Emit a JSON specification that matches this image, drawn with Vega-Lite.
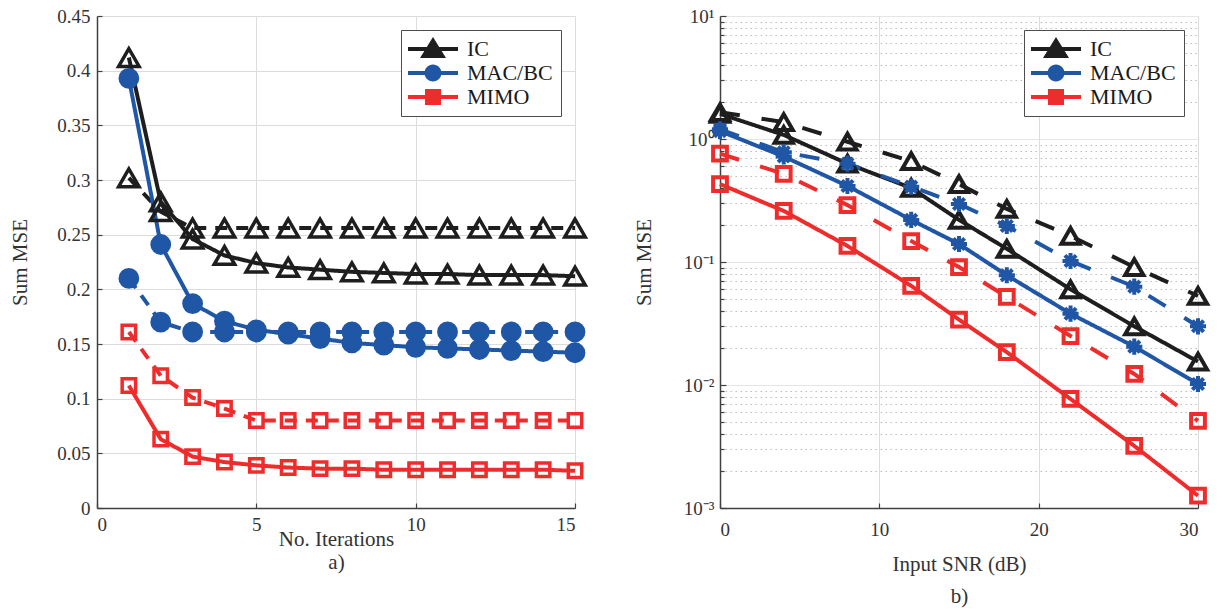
{
  "$schema": "https://vega.github.io/schema/vega-lite/v6.json",
  "background": "white",
  "padding": {"left": 9, "top": 7, "right": 5, "bottom": 5},
  "bounds": "flush",
  "spacing": 145,
  "config": {
    "font": "Liberation Serif",
    "view": {"stroke": null},
    "axis": {
      "labelFont": "Liberation Serif", "labelFontSize": 19, "labelColor": "#333333",
      "titleFont": "Liberation Serif", "titleFontSize": 21, "titleFontWeight": "normal", "titleColor": "#333333",
      "domainColor": "#404040", "domainWidth": 1.5, "tickColor": "#404040", "tickSize": -5, "tickWidth": 1.2,
      "gridColor": "#dcdcdc", "gridWidth": 1, "labelPadding": 12
    },
    "legend": {
      "title": null, "orient": "top-right", "offset": 14, "padding": 8,
      "strokeColor": "#4d4d4d", "fillColor": "white",
      "labelFont": "Liberation Serif", "labelFontSize": 22, "labelColor": "#1a1a1a",
      "labelOffset": 36, "rowPadding": 2, "symbolSize": 400, "symbolStrokeWidth": 0
    }
  },
  "datasets": {
    "left": [
      {"it":1,"mse":0.412,"series":"IC","type":"solid"},{"it":2,"mse":0.280,"series":"IC","type":"solid"},{"it":3,"mse":0.246,"series":"IC","type":"solid"},{"it":4,"mse":0.231,"series":"IC","type":"solid"},{"it":5,"mse":0.224,"series":"IC","type":"solid"},{"it":6,"mse":0.220,"series":"IC","type":"solid"},{"it":7,"mse":0.218,"series":"IC","type":"solid"},{"it":8,"mse":0.216,"series":"IC","type":"solid"},{"it":9,"mse":0.215,"series":"IC","type":"solid"},{"it":10,"mse":0.214,"series":"IC","type":"solid"},{"it":11,"mse":0.214,"series":"IC","type":"solid"},{"it":12,"mse":0.213,"series":"IC","type":"solid"},{"it":13,"mse":0.213,"series":"IC","type":"solid"},{"it":14,"mse":0.213,"series":"IC","type":"solid"},{"it":15,"mse":0.212,"series":"IC","type":"solid"},
      {"it":1,"mse":0.302,"series":"IC","type":"dashed"},{"it":2,"mse":0.271,"series":"IC","type":"dashed"},{"it":3,"mse":0.256,"series":"IC","type":"dashed"},{"it":4,"mse":0.256,"series":"IC","type":"dashed"},{"it":5,"mse":0.256,"series":"IC","type":"dashed"},{"it":6,"mse":0.256,"series":"IC","type":"dashed"},{"it":7,"mse":0.256,"series":"IC","type":"dashed"},{"it":8,"mse":0.256,"series":"IC","type":"dashed"},{"it":9,"mse":0.256,"series":"IC","type":"dashed"},{"it":10,"mse":0.256,"series":"IC","type":"dashed"},{"it":11,"mse":0.256,"series":"IC","type":"dashed"},{"it":12,"mse":0.256,"series":"IC","type":"dashed"},{"it":13,"mse":0.256,"series":"IC","type":"dashed"},{"it":14,"mse":0.256,"series":"IC","type":"dashed"},{"it":15,"mse":0.256,"series":"IC","type":"dashed"},
      {"it":1,"mse":0.393,"series":"MAC/BC","type":"solid"},{"it":2,"mse":0.241,"series":"MAC/BC","type":"solid"},{"it":3,"mse":0.187,"series":"MAC/BC","type":"solid"},{"it":4,"mse":0.171,"series":"MAC/BC","type":"solid"},{"it":5,"mse":0.163,"series":"MAC/BC","type":"solid"},{"it":6,"mse":0.159,"series":"MAC/BC","type":"solid"},{"it":7,"mse":0.155,"series":"MAC/BC","type":"solid"},{"it":8,"mse":0.151,"series":"MAC/BC","type":"solid"},{"it":9,"mse":0.149,"series":"MAC/BC","type":"solid"},{"it":10,"mse":0.147,"series":"MAC/BC","type":"solid"},{"it":11,"mse":0.146,"series":"MAC/BC","type":"solid"},{"it":12,"mse":0.145,"series":"MAC/BC","type":"solid"},{"it":13,"mse":0.144,"series":"MAC/BC","type":"solid"},{"it":14,"mse":0.143,"series":"MAC/BC","type":"solid"},{"it":15,"mse":0.142,"series":"MAC/BC","type":"solid"},
      {"it":1,"mse":0.210,"series":"MAC/BC","type":"dashed"},{"it":2,"mse":0.170,"series":"MAC/BC","type":"dashed"},{"it":3,"mse":0.161,"series":"MAC/BC","type":"dashed"},{"it":4,"mse":0.161,"series":"MAC/BC","type":"dashed"},{"it":5,"mse":0.161,"series":"MAC/BC","type":"dashed"},{"it":6,"mse":0.161,"series":"MAC/BC","type":"dashed"},{"it":7,"mse":0.161,"series":"MAC/BC","type":"dashed"},{"it":8,"mse":0.161,"series":"MAC/BC","type":"dashed"},{"it":9,"mse":0.161,"series":"MAC/BC","type":"dashed"},{"it":10,"mse":0.161,"series":"MAC/BC","type":"dashed"},{"it":11,"mse":0.161,"series":"MAC/BC","type":"dashed"},{"it":12,"mse":0.161,"series":"MAC/BC","type":"dashed"},{"it":13,"mse":0.161,"series":"MAC/BC","type":"dashed"},{"it":14,"mse":0.161,"series":"MAC/BC","type":"dashed"},{"it":15,"mse":0.161,"series":"MAC/BC","type":"dashed"},
      {"it":1,"mse":0.112,"series":"MIMO","type":"solid"},{"it":2,"mse":0.063,"series":"MIMO","type":"solid"},{"it":3,"mse":0.047,"series":"MIMO","type":"solid"},{"it":4,"mse":0.042,"series":"MIMO","type":"solid"},{"it":5,"mse":0.039,"series":"MIMO","type":"solid"},{"it":6,"mse":0.037,"series":"MIMO","type":"solid"},{"it":7,"mse":0.036,"series":"MIMO","type":"solid"},{"it":8,"mse":0.036,"series":"MIMO","type":"solid"},{"it":9,"mse":0.035,"series":"MIMO","type":"solid"},{"it":10,"mse":0.035,"series":"MIMO","type":"solid"},{"it":11,"mse":0.035,"series":"MIMO","type":"solid"},{"it":12,"mse":0.035,"series":"MIMO","type":"solid"},{"it":13,"mse":0.035,"series":"MIMO","type":"solid"},{"it":14,"mse":0.035,"series":"MIMO","type":"solid"},{"it":15,"mse":0.034,"series":"MIMO","type":"solid"},
      {"it":1,"mse":0.161,"series":"MIMO","type":"dashed"},{"it":2,"mse":0.121,"series":"MIMO","type":"dashed"},{"it":3,"mse":0.101,"series":"MIMO","type":"dashed"},{"it":4,"mse":0.091,"series":"MIMO","type":"dashed"},{"it":5,"mse":0.080,"series":"MIMO","type":"dashed"},{"it":6,"mse":0.080,"series":"MIMO","type":"dashed"},{"it":7,"mse":0.080,"series":"MIMO","type":"dashed"},{"it":8,"mse":0.080,"series":"MIMO","type":"dashed"},{"it":9,"mse":0.080,"series":"MIMO","type":"dashed"},{"it":10,"mse":0.080,"series":"MIMO","type":"dashed"},{"it":11,"mse":0.080,"series":"MIMO","type":"dashed"},{"it":12,"mse":0.080,"series":"MIMO","type":"dashed"},{"it":13,"mse":0.080,"series":"MIMO","type":"dashed"},{"it":14,"mse":0.080,"series":"MIMO","type":"dashed"},{"it":15,"mse":0.080,"series":"MIMO","type":"dashed"}
    ],
    "right": [
      {"snr":0,"mse":1.60,"series":"IC","type":"solid"},{"snr":4,"mse":1.08,"series":"IC","type":"solid"},{"snr":8,"mse":0.63,"series":"IC","type":"solid"},{"snr":12,"mse":0.40,"series":"IC","type":"solid"},{"snr":15,"mse":0.22,"series":"IC","type":"solid"},{"snr":18,"mse":0.128,"series":"IC","type":"solid"},{"snr":22,"mse":0.060,"series":"IC","type":"solid"},{"snr":26,"mse":0.030,"series":"IC","type":"solid"},{"snr":30,"mse":0.0155,"series":"IC","type":"solid"},
      {"snr":0,"mse":1.65,"series":"IC","type":"dashed"},{"snr":4,"mse":1.37,"series":"IC","type":"dashed"},{"snr":8,"mse":0.95,"series":"IC","type":"dashed"},{"snr":12,"mse":0.66,"series":"IC","type":"dashed"},{"snr":15,"mse":0.43,"series":"IC","type":"dashed"},{"snr":18,"mse":0.27,"series":"IC","type":"dashed"},{"snr":22,"mse":0.163,"series":"IC","type":"dashed"},{"snr":26,"mse":0.091,"series":"IC","type":"dashed"},{"snr":30,"mse":0.053,"series":"IC","type":"dashed"},
      {"snr":0,"mse":1.16,"series":"MAC/BC","type":"solid"},{"snr":4,"mse":0.72,"series":"MAC/BC","type":"solid"},{"snr":8,"mse":0.415,"series":"MAC/BC","type":"solid"},{"snr":12,"mse":0.22,"series":"MAC/BC","type":"solid"},{"snr":15,"mse":0.14,"series":"MAC/BC","type":"solid"},{"snr":18,"mse":0.078,"series":"MAC/BC","type":"solid"},{"snr":22,"mse":0.038,"series":"MAC/BC","type":"solid"},{"snr":26,"mse":0.0205,"series":"MAC/BC","type":"solid"},{"snr":30,"mse":0.0102,"series":"MAC/BC","type":"solid"},
      {"snr":0,"mse":1.20,"series":"MAC/BC","type":"dashed"},{"snr":4,"mse":0.78,"series":"MAC/BC","type":"dashed"},{"snr":8,"mse":0.63,"series":"MAC/BC","type":"dashed"},{"snr":12,"mse":0.41,"series":"MAC/BC","type":"dashed"},{"snr":15,"mse":0.296,"series":"MAC/BC","type":"dashed"},{"snr":18,"mse":0.196,"series":"MAC/BC","type":"dashed"},{"snr":22,"mse":0.102,"series":"MAC/BC","type":"dashed"},{"snr":26,"mse":0.063,"series":"MAC/BC","type":"dashed"},{"snr":30,"mse":0.030,"series":"MAC/BC","type":"dashed"},
      {"snr":0,"mse":0.43,"series":"MIMO","type":"solid"},{"snr":4,"mse":0.26,"series":"MIMO","type":"solid"},{"snr":8,"mse":0.135,"series":"MIMO","type":"solid"},{"snr":12,"mse":0.064,"series":"MIMO","type":"solid"},{"snr":15,"mse":0.034,"series":"MIMO","type":"solid"},{"snr":18,"mse":0.0185,"series":"MIMO","type":"solid"},{"snr":22,"mse":0.0077,"series":"MIMO","type":"solid"},{"snr":26,"mse":0.0032,"series":"MIMO","type":"solid"},{"snr":30,"mse":0.00126,"series":"MIMO","type":"solid"},
      {"snr":0,"mse":0.76,"series":"MIMO","type":"dashed"},{"snr":4,"mse":0.52,"series":"MIMO","type":"dashed"},{"snr":8,"mse":0.29,"series":"MIMO","type":"dashed"},{"snr":12,"mse":0.148,"series":"MIMO","type":"dashed"},{"snr":15,"mse":0.091,"series":"MIMO","type":"dashed"},{"snr":18,"mse":0.052,"series":"MIMO","type":"dashed"},{"snr":22,"mse":0.025,"series":"MIMO","type":"dashed"},{"snr":26,"mse":0.0123,"series":"MIMO","type":"dashed"},{"snr":30,"mse":0.0051,"series":"MIMO","type":"dashed"}
    ]
  },
  "hconcat": [
    {
      "width": 478, "height": 492,
      "data": {"name": "left"},
      "encoding": {
        "x": {"field": "it", "type": "quantitative", "scale": {"domain": [0, 15], "nice": false},
              "axis": {"values": [0, 5, 10, 15], "title": ["No. Iterations", "a)"], "titleLineHeight": 23, "titlePadding": -6, "labelPadding": 12}},
        "y": {"field": "mse", "type": "quantitative", "scale": {"domain": [0, 0.45], "nice": false},
              "axis": {"values": [0, 0.05, 0.1, 0.15, 0.2, 0.25, 0.3, 0.35, 0.4, 0.45], "labelExpr": "datum.value == 0 ? '0' : format(datum.value, '.2~f')", "title": "Sum MSE", "titlePadding": 26}}
      },
      "layer": [
        {
          "mark": {"type": "line", "strokeWidth": 4},
          "encoding": {
            "stroke": {"field": "series", "type": "nominal", "scale": {"domain": ["IC", "MAC/BC", "MIMO"], "range": ["#1e1e1e", "#1f56a5", "#ee2c2c"]}, "legend": null},
            "strokeDash": {"field": "type", "type": "nominal", "scale": {"domain": ["solid", "dashed"], "range": [[1, 0], [12, 9]]}, "legend": null}
          }
        },
        {
          "mark": {"type": "point", "filled": true, "strokeWidth": 3.5, "opacity": 1},
          "encoding": {
            "shape": {"field": "series", "type": "nominal", "scale": {"domain": ["IC", "MAC/BC", "MIMO"], "range": ["triangle-up", "circle", "square"]}, "legend": null},
            "size": {"field": "series", "type": "nominal", "scale": {"domain": ["IC", "MAC/BC", "MIMO"], "range": [420, 180, 140]}, "legend": null},
            "stroke": {"field": "series", "type": "nominal", "scale": {"domain": ["IC", "MAC/BC", "MIMO"], "range": ["#1e1e1e", "#1f56a5", "#ee2c2c"]}, "legend": null},
            "fill": {"field": "series", "type": "nominal", "scale": {"domain": ["IC", "MAC/BC", "MIMO"], "range": ["rgba(255,255,255,0)", "#1f56a5", "rgba(255,255,255,0)"]}, "legend": null}
          }
        },
        {
          "transform": [{"filter": "false"}],
          "mark": {"type": "point", "filled": false, "strokeWidth": 0, "opacity": 1, "size": 400},
          "encoding": {
            "color": {"field": "series", "type": "nominal", "scale": {"domain": ["IC", "MAC/BC", "MIMO"], "range": ["#1e1e1e", "#1f56a5", "#ee2c2c"]}},
            "fill": {"field": "series", "type": "nominal", "scale": {"domain": ["IC", "MAC/BC", "MIMO"], "range": ["#1e1e1e", "#1f56a5", "#ee2c2c"]}},
            "shape": {"field": "series", "type": "nominal", "scale": {"domain": ["IC", "MAC/BC", "MIMO"], "range": ["M-1.2,-0.2L3.8,-0.2L3.8,0.2L-1.2,0.2ZM1.3,-1.2L2.6,0.9L0,0.9Z", "M-1.2,-0.2L3.8,-0.2L3.8,0.2L-1.2,0.2ZM0.45,0A0.85,0.85 0 1,1 2.15,0A0.85,0.85 0 1,1 0.45,0Z", "M-1.2,-0.2L3.8,-0.2L3.8,0.2L-1.2,0.2ZM0.5,-0.8L2.1,-0.8L2.1,0.8L0.5,0.8Z"]}}
          }
        }
      ],
      "resolve": {"scale": {"shape": "independent", "fill": "independent"}}
    },
    {
      "width": 478, "height": 492,
      "data": {"name": "right"},
      "encoding": {
        "x": {"field": "snr", "type": "quantitative", "scale": {"domain": [0, 30], "nice": false},
              "axis": {"values": [0, 10, 20, 30], "title": ["Input SNR (dB)", "b)"], "titleLineHeight": 32, "titlePadding": 14, "labelPadding": 17}},
        "y": {"field": "mse", "type": "quantitative", "scale": {"type": "log", "domain": [0.001, 10], "nice": false},
              "axis": {
                "values": [0.001,0.002,0.003,0.004,0.005,0.006,0.007,0.008,0.009,0.01,0.02,0.03,0.04,0.05,0.06,0.07,0.08,0.09,0.1,0.2,0.3,0.4,0.5,0.6,0.7,0.8,0.9,1,2,3,4,5,6,7,8,9,10],
                "labelExpr": "abs(log(datum.value)/LN10 - round(log(datum.value)/LN10)) < 0.000001 ? (round(log(datum.value)/LN10) == 1 ? '10¹' : round(log(datum.value)/LN10) == 0 ? '10⁰' : round(log(datum.value)/LN10) == -1 ? '10⁻¹' : round(log(datum.value)/LN10) == -2 ? '10⁻²' : '10⁻³') : ''",
                "gridDash": {"condition": {"test": "abs(log(datum.value)/LN10 - round(log(datum.value)/LN10)) < 0.000001", "value": [1, 0]}, "value": [1.5, 3.5]},
                "gridColor": {"condition": {"test": "abs(log(datum.value)/LN10 - round(log(datum.value)/LN10)) < 0.000001", "value": "#dcdcdc"}, "value": "#bdbdbd"},
                "tickSize": {"condition": {"test": "abs(log(datum.value)/LN10 - round(log(datum.value)/LN10)) < 0.000001", "value": -6}, "value": -4},
                "labelOverlap": false,
                "title": "Sum MSE", "titlePadding": 29
              }}
      },
      "layer": [
        {
          "mark": {"type": "line", "strokeWidth": 4},
          "encoding": {
            "stroke": {"field": "series", "type": "nominal", "scale": {"domain": ["IC", "MAC/BC", "MIMO"], "range": ["#1e1e1e", "#1f56a5", "#ee2c2c"]}, "legend": null},
            "strokeDash": {"field": "type", "type": "nominal", "scale": {"domain": ["solid", "dashed"], "range": [[1, 0], [20, 22]]}, "legend": null}
          }
        },
        {
          "mark": {"type": "point", "filled": true, "strokeWidth": 4, "opacity": 1},
          "encoding": {
            "shape": {"field": "series", "type": "nominal", "scale": {"domain": ["IC", "MAC/BC", "MIMO"], "range": ["triangle-up", "M-1,0L1,0M0,-1L0,1M-0.7,-0.7L0.7,0.7M-0.7,0.7L0.7,-0.7", "square"]}, "legend": null},
            "size": {"field": "series", "type": "nominal", "scale": {"domain": ["IC", "MAC/BC", "MIMO"], "range": [330, 190, 130]}, "legend": null},
            "stroke": {"field": "series", "type": "nominal", "scale": {"domain": ["IC", "MAC/BC", "MIMO"], "range": ["#1e1e1e", "#1f56a5", "#ee2c2c"]}, "legend": null},
            "fill": {"field": "series", "type": "nominal", "scale": {"domain": ["IC", "MAC/BC", "MIMO"], "range": ["rgba(255,255,255,0)", "#1f56a5", "rgba(255,255,255,0)"]}, "legend": null}
          }
        },
        {
          "transform": [{"filter": "false"}],
          "mark": {"type": "point", "filled": false, "strokeWidth": 0, "opacity": 1, "size": 400},
          "encoding": {
            "color": {"field": "series", "type": "nominal", "scale": {"domain": ["IC", "MAC/BC", "MIMO"], "range": ["#1e1e1e", "#1f56a5", "#ee2c2c"]}},
            "fill": {"field": "series", "type": "nominal", "scale": {"domain": ["IC", "MAC/BC", "MIMO"], "range": ["#1e1e1e", "#1f56a5", "#ee2c2c"]}},
            "shape": {"field": "series", "type": "nominal", "scale": {"domain": ["IC", "MAC/BC", "MIMO"], "range": ["M-1.2,-0.2L3.8,-0.2L3.8,0.2L-1.2,0.2ZM1.3,-1.2L2.6,0.9L0,0.9Z", "M-1.2,-0.2L3.8,-0.2L3.8,0.2L-1.2,0.2ZM0.45,0A0.85,0.85 0 1,1 2.15,0A0.85,0.85 0 1,1 0.45,0Z", "M-1.2,-0.2L3.8,-0.2L3.8,0.2L-1.2,0.2ZM0.5,-0.8L2.1,-0.8L2.1,0.8L0.5,0.8Z"]}}
          }
        }
      ],
      "resolve": {"scale": {"shape": "independent", "fill": "independent"}}
    }
  ],
  "resolve": {"scale": {"shape": "independent", "fill": "independent", "size": "independent", "strokeDash": "independent"}, "legend": {"color": "independent", "fill": "independent", "shape": "independent"}}
}
